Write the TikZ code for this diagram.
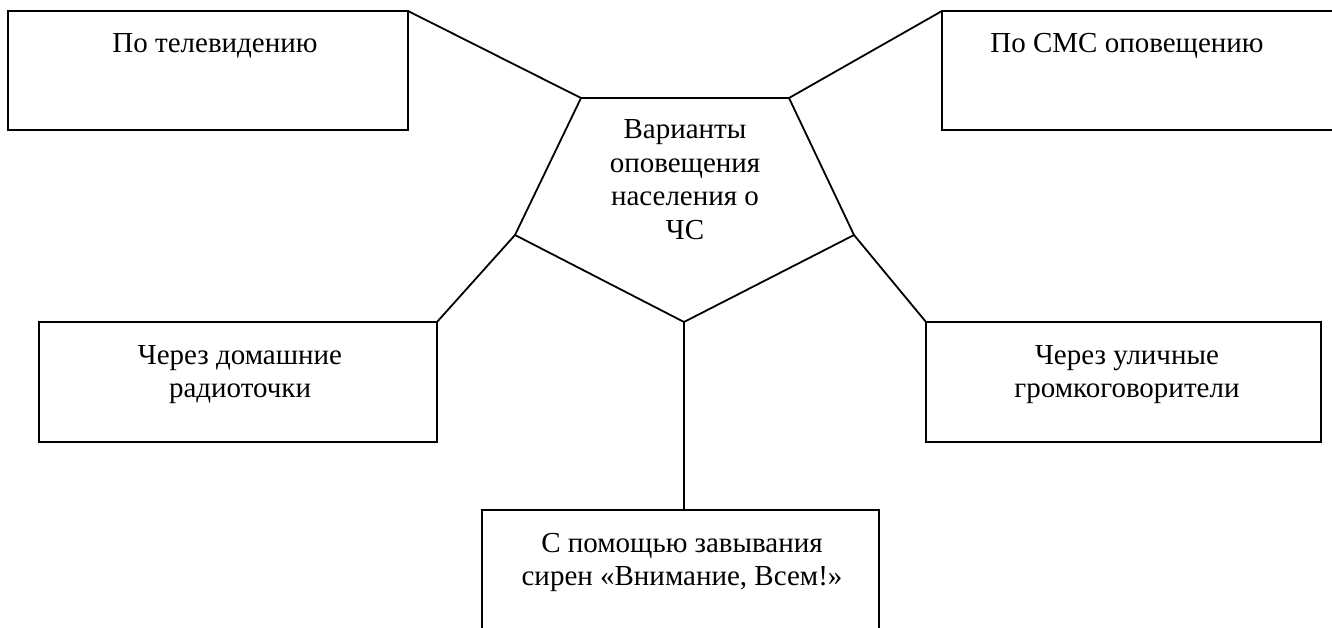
\documentclass[tikz,border=0pt]{standalone}
\usepackage{fontspec}
\setmainfont{Liberation Serif}
\begin{document}
\begin{tikzpicture}[x=1pt,y=-1pt,
  frame/.style={draw, line width=1.8pt, rectangle, inner sep=0pt, outer sep=0pt, anchor=north west},
  link/.style={line width=1.8pt},
  lbl/.style={align=center, inner sep=0pt, anchor=base, font=\rmfamily\fontsize{29}{33.5}\selectfont}]
\useasboundingbox (0,0) rectangle (1332,628);
\clip (0,0) rectangle (1332,628);
% boxes
\node[frame, minimum width=400pt, minimum height=119pt] (tv) at (8,11) {};
\node[frame, minimum width=420pt, minimum height=119pt] (sms) at (942,11) {};
\node[frame, minimum width=398pt, minimum height=120pt] (home) at (39,322) {};
\node[frame, minimum width=395pt, minimum height=120pt] (street) at (926,322) {};
\node[frame, minimum width=397pt, minimum height=160pt] (siren) at (482,510) {};
% pentagon
\coordinate (p1) at (581,98);
\coordinate (p2) at (789,98);
\coordinate (p3) at (854,235);
\coordinate (p4) at (684,322);
\coordinate (p5) at (515,235);
\draw[link, line join=miter] (p1) -- (p2) -- (p3) -- (p4) -- (p5) -- cycle;
% connectors
\draw[link] (tv.north east) -- (p1);
\draw[link] (p2) -- (sms.north west);
\draw[link] (p5) -- (home.north east);
\draw[link] (p3) -- (street.north west);
\draw[link] (p4) -- (p4 |- siren.north);
% texts (anchor base = baseline of the last line)
\node[lbl] (tvt) at (215,53) {По телевидению};
\node[lbl] (smst) at (1127,53) {По СМС оповещению};
\node[lbl] (ct) at (685,239.5) {Варианты\\оповещения\\населения о\\ЧС};
\node[lbl] (homet) at (240,397.5) {Через домашние\\радиоточки};
\node[lbl] (streett) at (1127,397.5) {Через уличные\\громкоговорители};
\node[lbl] (sirent) at (682,585.5) {С помощью завывания\\сирен «Внимание, Всем!»};
\end{tikzpicture}
\end{document}
